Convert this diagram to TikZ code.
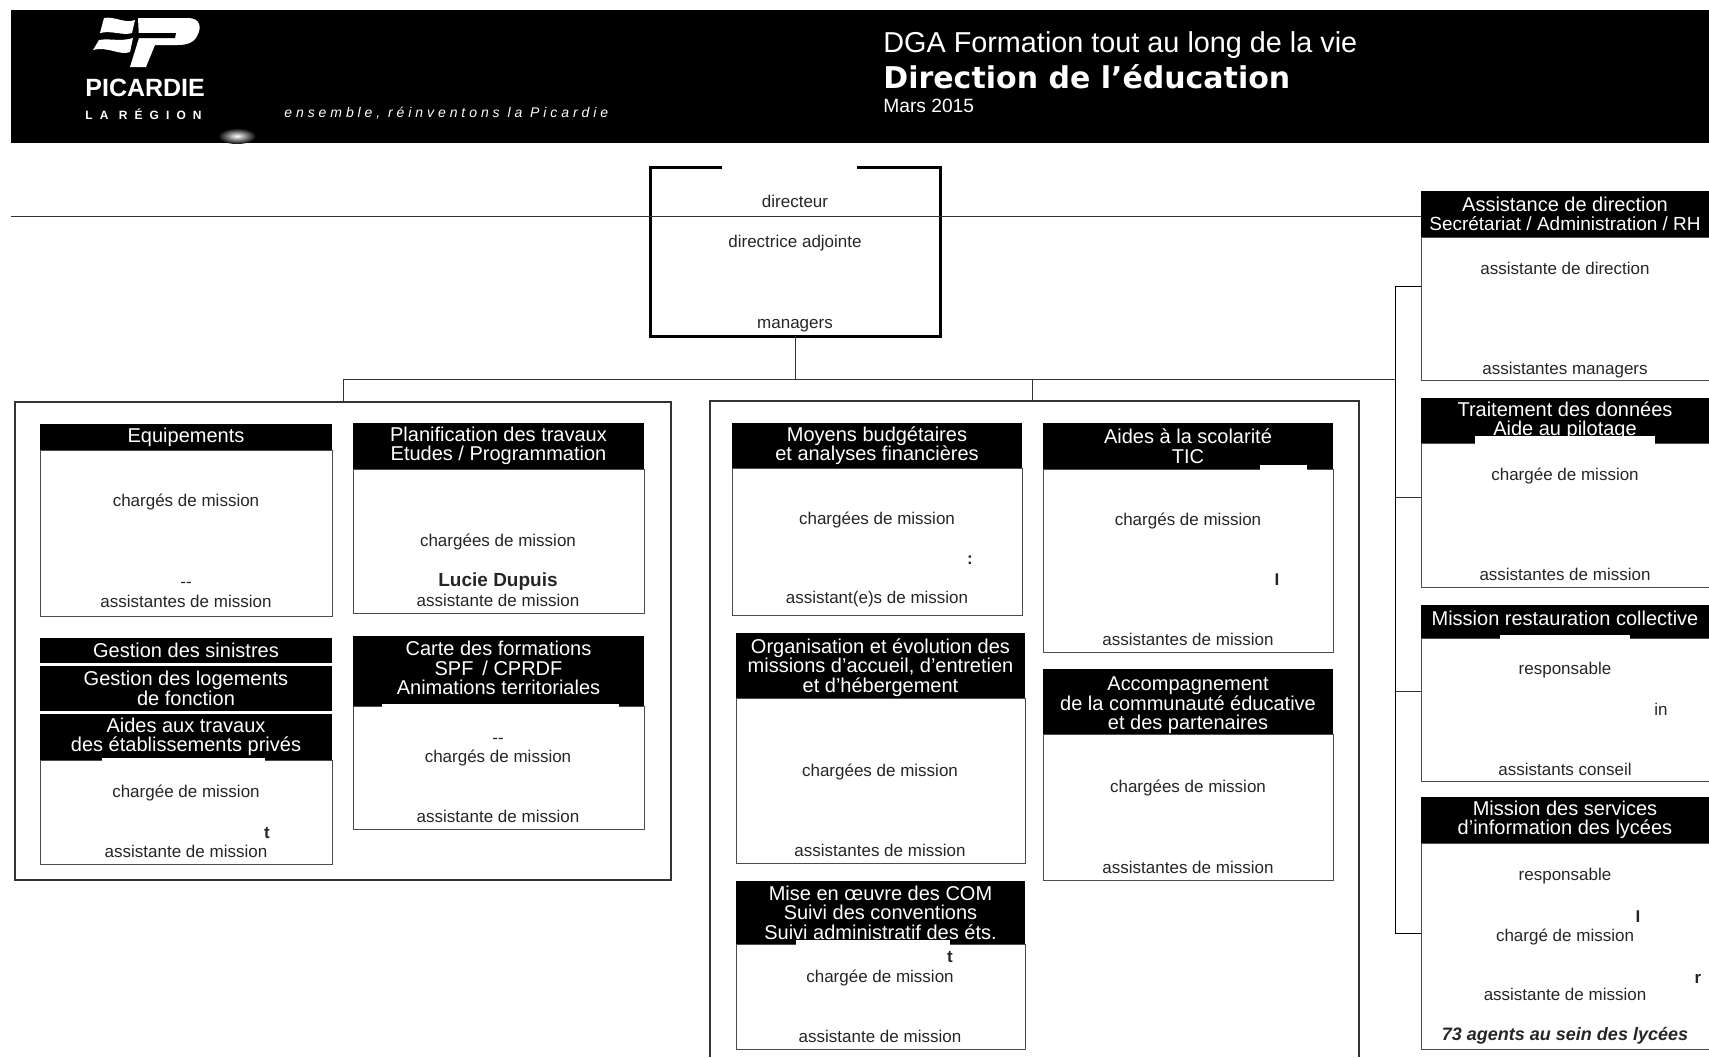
\documentclass[tikz,border=0pt]{standalone}
\usepackage{fontspec}
\setmainfont{Liberation Sans}
\newfontfamily\titlefont{DejaVu Sans}
\usepackage{tikz}
\usetikzlibrary{
    positioning,
}

\begin{document}
\begin{tikzpicture}[
        x=0.5pt, y=-0.5pt,
        cardhead/.style 2 args={
            rectangle, fill=black, text=white!92, anchor=north west,
            minimum width=#1*0.5pt, minimum height=#2*0.5pt,
            inner sep=0pt, outer sep=0pt, align=center,
            font=\fontsize{10}{9.8}\selectfont
        },
        cardbody/.style 2 args={
            rectangle, draw=black!70, line width=0.5pt, fill=white,
            minimum width=#1*0.5pt, minimum height=#2*0.5pt,
            inner sep=0pt, outer sep=0pt
        },
        role/.style={font=\fontsize{8.5}{10}\selectfont, text=black!85, inner sep=0pt,
            text height=6.5pt, text depth=2pt, yshift=-0.7pt},
        scrap/.style={role, font=\fontsize{8.5}{10}\bfseries\selectfont},
        link/.style={line width=0.5pt, black!80},
        spine/.style={line width=0.5pt, black},
        group/.style={line width=0.6pt, black!80},
        notch/.style={fill=white},
    ]
    \useasboundingbox (0,0) rectangle (1709,1057);

    % -- Banner --
    \fill[black] (11,10) rectangle (1709,143);
    \shade[inner color=white, outer color=black] (237,136) ellipse (19 and 8);
    \fill[white] (104,18) .. controls (115,16) and (125,24) .. (135,20) -- (132,33)
        .. controls (122,36) and (112,30) .. (100,33) -- cycle;
    \fill[white] (99,40) .. controls (110,38) and (120,42) .. (133,38) -- (130,52)
        .. controls (120,56) and (108,46) .. (93,50) -- cycle;
    \fill[white] (138,18) -- (188,18) .. controls (201,18) and (201,28) .. (198,34)
        .. controls (195,42) and (188,45) .. (178,45) -- (155,45) -- (146,67)
        -- (130,67) -- (139,38) -- cycle;
    \fill[black] (135,33) -- (176,33) -- (175,38) -- (133,38) -- cycle;
    \node[anchor=west, inner sep=0pt, text=white, font=\fontsize{12.5}{13}\bfseries\selectfont]
        (regionname) at (85,88) {PICARDIE};
    \node[anchor=west, inner sep=0pt, text=white!90,
        font=\fontsize{6}{7}\bfseries\selectfont\addfontfeature{LetterSpace=59}]
        (regionword) at (85,114) {LA RÉGION};
    \node[anchor=west, inner sep=0pt, text=white!70,
        font=\fontsize{7}{8}\itshape\selectfont\addfontfeature{LetterSpace=28}]
        (motto) at (284,113) {ensemble, réinventons la Picardie};
    \node[anchor=west, inner sep=0pt, text=white!85, font=\fontsize{14.4}{16}\selectfont]
        (dga) at (883,45) {DGA Formation tout au long de la vie};
    \node[anchor=west, inner sep=0pt, text=white, font=\fontsize{15}{17}\titlefont\bfseries\selectfont]
        (direction) at (883,77) {Direction de l’éducation};
    \node[anchor=west, inner sep=0pt, text=white!75, font=\fontsize{9.6}{12}\selectfont]
        (date) at (883,106) {Mars 2015};

    % -- Direction box --
    \node[rectangle, draw=black, line width=1.5pt, minimum width=145pt, minimum height=84.5pt,
        anchor=north west, inner sep=0pt, outer sep=0pt] (director) at (650,167) {};
    \draw[white, line width=2.5pt] (722,167) -- (857,167);
    \node[role] (directeur) at (795,202) {directeur};
    \node[role] (adjointe) at (795,242) {directrice adjointe};
    \node[role] (managers) at (795,323) {managers};

    % -- Left group --
    \node[rectangle, draw=black!80, line width=0.6pt, minimum width=328pt, minimum height=239pt,
        anchor=north west, inner sep=0pt, outer sep=0pt] (leftgroup) at (15,402) {};

    \node[cardhead={292}{26}] (equiphead) at (40,424) {Equipements};
    \node[cardbody={292}{166}, below=0pt of equiphead] (equipbody) {};
    \node[role] (equiprole) at (186,501) {chargés de mission};
    \node[role] (equipdash) at (186,582) {-{}-};
    \node[role] (equipassist) at (186,602) {assistantes de mission};

    \node[cardhead={291}{46}] (planhead) at (353,423) {Planification des travaux\\Etudes / Programmation};
    \node[cardbody={291}{144}, below=0pt of planhead] (planbody) {};
    \node[role] (planrole) at (498,541) {chargées de mission};
    \node[role, font=\fontsize{9.5}{10}\bfseries\selectfont] (planname) at (498,581) {Lucie Dupuis};
    \node[role] (planassist) at (498,601) {assistante de mission};

    \node[cardhead={292}{25}] (sinistres) at (40,638) {Gestion des sinistres};
    \node[cardhead={292}{45}] (logements) at (40,666) {Gestion des logements\\de fonction};
    \node[cardhead={292}{46}] (travauxhead) at (40,714) {Aides aux travaux\\des établissements privés};
    \node[cardbody={292}{104}, below=0pt of travauxhead] (travauxbody) {};
    \fill[notch] (102,758) rectangle (265,761);
    \node[role] (travauxrole) at (186,792) {chargée de mission};
    \node[scrap] (travauxscrap) at (267,833) {t};
    \node[role] (travauxassist) at (186,852) {assistante de mission};

    \node[cardhead={291}{70}] (cartehead) at (353,636) {Carte des formations\\SPF\, / CPRDF\\Animations territoriales\rule[-3.2pt]{0pt}{3.2pt}};
    \node[cardbody={291}{123}, below=0pt of cartehead] (cartebody) {};
    \fill[notch] (382,704) rectangle (619,707);
    \node[role] (cartedash) at (498,738) {-{}-};
    \node[role] (carterole) at (498,757) {chargés de mission};
    \node[role] (carteassist) at (498,817) {assistante de mission};

    % -- Middle group --
    \coordinate (midleft) at (710,1057);
    \coordinate (midtop) at (1032,401);
    \coordinate (midright) at (1359,1057);
    \draw[group] (midleft) |- (midtop) -| (midright);

    \node[cardhead={290}{45}] (moyenshead) at (732,423) {Moyens budgétaires\\et analyses financières};
    \node[cardbody={290}{147}, below=0pt of moyenshead] (moyensbody) {};
    \node[role] (moyensrole) at (877,519) {chargées de mission};
    \node[scrap] (moyensscrap) at (970,559) {:};
    \node[role] (moyensassist) at (877,598) {assistant(e)s de mission};

    \node[cardhead={290}{46}] (scolahead) at (1043,423) {Aides à la scolarité\\TIC};
    \node[cardbody={290}{183}, below=0pt of scolahead] (scolabody) {};
    \fill[notch] (1260,465) rectangle (1307,470);
    \node[role] (scolarole) at (1188,520) {chargés de mission};
    \node[scrap] (scolascrap) at (1277,580) {I};
    \node[role] (scolaassist) at (1188,640) {assistantes de mission};

    \node[cardhead={289}{65}] (orgahead) at (736,633) {\rule{0pt}{9.4pt}Organisation et évolution des\\missions d’accueil, d’entretien\\et d’hébergement};
    \node[cardbody={289}{165}, below=0pt of orgahead] (orgabody) {};
    \node[role] (orgarole) at (880,771) {chargées de mission};
    \node[role] (orgaassist) at (880,851) {assistantes de mission};

    \node[cardhead={290}{65}] (accomphead) at (1043,669) {\rule{0pt}{10.6pt}Accompagnement\\de la communauté éducative\\et des partenaires};
    \node[cardbody={290}{146}, below=0pt of accomphead] (accompbody) {};
    \node[role] (accomprole) at (1188,787) {chargées de mission};
    \node[role] (accompassist) at (1188,868) {assistantes de mission};

    \node[cardhead={289}{63}] (comhead) at (736,881) {Mise en œuvre des COM\\Suivi des conventions\\Suivi administratif des éts.};
    \node[cardbody={289}{105}, below=0pt of comhead] (combody) {};
    \fill[notch] (796,940) rectangle (950,945);
    \node[scrap] (comscrap) at (950,957) {t};
    \node[role] (comrole) at (880,977) {chargée de mission};
    \node[role] (comassist) at (880,1037) {assistante de mission};

    % -- Right column --
    \node[cardhead={288}{46}] (assisthead) at (1421,191) {Assistance de direction\\\fontsize{9.5}{9.8}\selectfont Secrétariat / Administration / RH};
    \node[cardbody={288}{143}, below=0pt of assisthead] (assistbody) {};
    \node[role] (assistrole) at (1565,269) {assistante de direction};
    \node[role] (assistmanagers) at (1565,369) {assistantes managers};

    \node[cardhead={288}{45}] (donneeshead) at (1421,398) {Traitement des données\\Aide au pilotage};
    \node[cardbody={288}{144}, below=0pt of donneeshead] (donneesbody) {};
    \fill[notch] (1475,436) rectangle (1655,444);
    \node[role] (donneesrole) at (1565,475) {chargée de mission};
    \node[role] (donneesassist) at (1565,575) {assistantes de mission};

    \node[cardhead={288}{33}] (restohead) at (1421,605) {Mission restauration collective\rule[-3.2pt]{0pt}{3.2pt}};
    \node[cardbody={288}{143}, below=0pt of restohead] (restobody) {};
    \fill[notch] (1500,635) rectangle (1630,639);
    \node[role] (restorole) at (1565,669) {responsable};
    \node[role] (restoscrap) at (1661,710) {in};
    \node[role] (restoassist) at (1565,770) {assistants conseil};

    \node[cardhead={288}{46}] (siheads) at (1421,797) {Mission des services\\d’information des lycées};
    \node[cardbody={288}{206}, below=0pt of siheads] (sibody) {};
    \node[role] (sirole) at (1565,875) {responsable};
    \node[scrap] (siscrap) at (1638,917) {I};
    \node[role] (sicharge) at (1565,936) {chargé de mission};
    \node[scrap] (siother) at (1698,978) {r};
    \node[role] (siassist) at (1565,995) {assistante de mission};
    \node[role, font=\fontsize{9}{10}\bfseries\itshape\selectfont] (siagents) at (1565,1035) {73 agents au sein des lycées};

    % -- Connectors --
    \coordinate (ruleleft) at (11,216);
    \draw[link] (ruleleft) -- (ruleleft -| assisthead.west);
    \coordinate (bus) at (795,379);
    \coordinate (spinetop) at (1395,286);
    \coordinate (spinetwo) at (1395,497);
    \coordinate (spinethree) at (1395,691);
    \coordinate (spineend) at (1395,933);
    \draw[link] (director.south) -- (bus);
    \draw[link] (leftgroup.north) |- (spinetop |- bus);
    \draw[link] (midtop) -- (midtop |- bus);
    \draw[spine] (assistbody.west |- spinetop) -- (spinetop) -- (spineend) -- (sibody.west |- spineend);
    \draw[link] (spinetwo) -- (spinetwo -| donneesbody.west);
    \draw[link] (spinethree) -- (spinethree -| restobody.west);

\end{tikzpicture}
\end{document}
